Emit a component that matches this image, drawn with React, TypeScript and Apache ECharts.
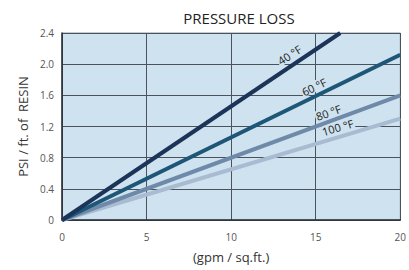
import React, { useEffect, useRef } from "react";
import * as echarts from "echarts";

const seriesNames = ["40°F", "60°F", "80°F", "100°F"];
const seriesColors = ["#1b3457", "#1d5676", "#6f89a9", "#a8bbd1"];
const endPoints: [number, number][] = [
  [16.45, 2.4],
  [20, 2.12],
  [20, 1.6],
  [20, 1.3],
];
const labelCoords: [number, number][] = [
  [13.45, 2.12],
  [14.9, 1.71],
  [15.75, 1.38],
  [16.3, 1.19],
];
const labelRotate = [33, 26, 20, 16.5];
const yTicks = [0, 0.4, 0.8, 1.2, 1.6, 2.0, 2.4];
const xTicks = [0, 5, 10, 15, 20];

export default function App() {
  const ref = useRef<HTMLDivElement>(null);
  useEffect(() => {
    const chart = echarts.init(ref.current!, null, { renderer: "svg" });
    const font = "'Open Sans', 'Noto Sans', sans-serif";
    chart.setOption({
      animation: false,
      title: {
        text: "PRESSURE LOSS",
        left: 234,
        top: 5,
        textAlign: "center",
        textStyle: { fontSize: 15, fontWeight: "normal", color: "#222", fontFamily: font },
      },
      grid: {
        left: 62,
        right: 6,
        top: 33,
        bottom: 50,
        show: true,
        backgroundColor: "#cfe2ef",
        borderColor: "#8a97a3",
        borderWidth: 1,
      },
      xAxis: {
        type: "value",
        min: 0,
        max: 20,
        interval: 5,
        name: "(gpm / sq.ft.)",
        nameLocation: "middle",
        nameGap: 30,
        nameTextStyle: { fontSize: 13, color: "#333", fontFamily: font },
        axisLine: { lineStyle: { color: "#2a2f36", width: 1.5 } },
        axisTick: { show: false },
        axisLabel: {
          color: "#555",
          fontSize: 10,
          margin: 12,
          fontFamily: font,
          formatter: (v: number) => (xTicks.includes(v) ? String(v) : ""),
        },
        splitLine: { show: true, lineStyle: { color: "#4a525c", width: 1 } },
      },
      yAxis: {
        type: "value",
        min: 0,
        max: 2.4,
        interval: 0.4,
        name: "PSI / ft. of  RESIN",
        nameLocation: "middle",
        nameGap: 32,
        nameTextStyle: { fontSize: 13, color: "#333", fontFamily: font },
        axisLine: { show: true, lineStyle: { color: "#2a2f36", width: 1.5 } },
        axisTick: { show: false },
        axisLabel: {
          color: "#555",
          fontSize: 10,
          margin: 8,
          fontFamily: font,
          formatter: (v: number) => {
            const t = yTicks.find((y) => Math.abs(y - v) < 1e-6);
            return t === undefined ? "" : t === 0 ? "0" : t.toFixed(1);
          },
        },
        splitLine: { show: true, lineStyle: { color: "#4a525c", width: 1 } },
      },
      series: seriesNames.map((name, i) => ({
        name,
        type: "line",
        data: [[0, 0], endPoints[i]],
        symbol: "none",
        lineStyle: { color: seriesColors[i], width: 4 },
        z: 10 - i,
        markPoint: {
          symbol: "circle",
          symbolSize: 0,
          data: [{ coord: labelCoords[i] }],
          label: {
            show: true,
            formatter: name.replace("°", " °"),
            rotate: labelRotate[i],
            color: "#1a1a1a",
            fontSize: 11,
            fontFamily: font,
            backgroundColor: "#cfe2ef",
            padding: [0, 1],
            position: "inside",
          },
        },
      })),
    });
    return () => chart.dispose();
  }, []);
  return <div ref={ref} style={{ width: 409, height: 270, position: "absolute", left: 0, top: 0 }} />;
}
